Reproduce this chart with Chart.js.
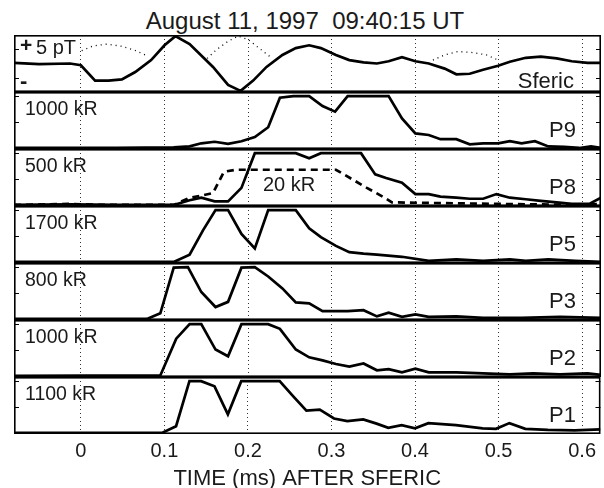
<!DOCTYPE html>
<html>
<head>
<meta charset="utf-8">
<script src="https://cdn.jsdelivr.net/npm/chart.js@4"></script>
<style>
body { margin: 0; background: #fff; }
#page { position: relative; width: 604px; height: 488px; font-family: "Liberation Sans", Arial, Helvetica, sans-serif; color: #1a1a1a; overflow: hidden; }
.panel { position: absolute; left: 14px; width: 587px; }
.lbl { position: absolute; white-space: pre; line-height: 1; }
</style>
</head>
<body>
<div id="page">
  <div class="lbl" id="title" style="left:3px;width:604px;text-align:center;top:9px;font-size:24px;">August 11, 1997  09:40:15 UT</div>
</div>
<script>
// x axis
const xMin = -0.08;
const xMax = 0.622;
const xTicks = [0, 0.1, 0.2, 0.3, 0.4, 0.5, 0.6];
const xTickLabels = ["0", "0.1", "0.2", "0.3", "0.4", "0.5", "0.6"];

// sferic (normalized, +/-1 = full panel)
const sfericT = [-0.08, -0.05, -0.013, 0, 0.017, 0.033, 0.049, 0.065, 0.084, 0.1, 0.113, 0.13, 0.158, 0.176, 0.191, 0.206, 0.222, 0.241, 0.257, 0.273, 0.287, 0.305, 0.321, 0.338, 0.354, 0.368, 0.384, 0.4, 0.416, 0.435, 0.449, 0.465, 0.481, 0.499, 0.513, 0.532, 0.55, 0.569, 0.587, 0.606, 0.622];
const sfericV = [0.02, -0.02, 0.0, -0.06, -0.6, -0.6, -0.56, -0.3, 0.12, 0.64, 0.96, 0.68, -0.12, -0.75, -0.96, -0.6, -0.12, 0.3, 0.54, 0.64, 0.54, 0.3, 0.12, 0.04, 0.0, 0.08, 0.22, 0.08, 0.0, -0.18, -0.38, -0.36, -0.22, -0.08, 0.06, 0.2, 0.24, 0.18, 0.08, 0.02, 0.02];
// dotted arcs (inverted negative lobes)
const arcT = [0.001, 0.015, 0.031, 0.048, 0.064, 0.08, null, 0.151, 0.162, 0.176, 0.188, 0.2, 0.213, 0.227, null, 0.421, 0.435, 0.451, 0.467, 0.485, 0.499];
const arcV = [0.45, 0.62, 0.68, 0.61, 0.47, 0.26, null, 0.18, 0.48, 0.78, 0.96, 0.84, 0.54, 0.22, null, 0.12, 0.3, 0.42, 0.39, 0.3, 0.12];

// photometer channels (normalized to the scale in each panel label)
const p9T = [-0.08, 0.042, 0.111, 0.13, 0.144, 0.16, 0.176, 0.192, 0.208, 0.224, 0.238, 0.254, 0.273, 0.289, 0.304, 0.319, 0.368, 0.384, 0.4, 0.416, 0.43, 0.449, 0.465, 0.481, 0.499, 0.513, 0.527, 0.543, 0.559, 0.578, 0.596, 0.61, 0.622];
const p9V = [0, 0, 0.01, 0.03, 0.09, 0.12, 0.08, 0.13, 0.21, 0.4, 0.97, 1, 1, 0.81, 0.7, 1, 1, 0.57, 0.28, 0.25, 0.17, 0.17, 0.07, 0.09, 0.09, 0.13, 0.09, 0.13, 0.03, 0.02, 0, 0.03, 0];

const p8T = [-0.08, -0.013, 0.042, 0.111, 0.13, 0.144, 0.16, 0.176, 0.192, 0.208, 0.257, 0.273, 0.287, 0.335, 0.352, 0.365, 0.384, 0.4, 0.416, 0.43, 0.449, 0.465, 0.481, 0.497, 0.513, 0.532, 0.55, 0.569, 0.587, 0.608, 0.622];
const p8V = [0, 0.01, 0, 0, 0.09, 0.14, 0.07, 0.07, 0.33, 1, 1, 0.9, 1, 1, 0.59, 0.52, 0.43, 0.21, 0.21, 0.16, 0.14, 0.12, 0.12, 0.21, 0.14, 0.11, 0.08, 0.05, 0.02, 0.02, 0.14];
// P8 at 20 kR scale (dashed)
const p8lowT = [-0.08, -0.013, 0.024, 0.111, 0.13, 0.144, 0.158, 0.171, 0.185, 0.305, 0.324, 0.342, 0.361, 0.372, 0.412, 0.504, 0.596, 0.622];
const p8lowV = [0, 0.02, 0, 0, 0.14, 0.18, 0.23, 0.64, 0.68, 0.68, 0.5, 0.33, 0.16, 0.05, 0.04, 0.02, 0, 0.02];

const p5T = [-0.08, 0.111, 0.13, 0.146, 0.161, 0.176, 0.192, 0.208, 0.224, 0.257, 0.273, 0.287, 0.305, 0.321, 0.338, 0.354, 0.384, 0.416, 0.449, 0.481, 0.513, 0.532, 0.559, 0.591, 0.622];
const p5V = [0, 0, 0.14, 0.61, 1, 1, 0.54, 0.26, 1, 1, 0.65, 0.48, 0.31, 0.19, 0.16, 0.14, 0.1, 0.02, 0.05, 0.02, 0.05, 0.02, 0.05, 0.02, 0];

const p3T = [-0.08, 0.079, 0.095, 0.111, 0.128, 0.144, 0.161, 0.176, 0.192, 0.208, 0.224, 0.241, 0.257, 0.273, 0.289, 0.319, 0.338, 0.354, 0.368, 0.384, 0.4, 0.416, 0.449, 0.481, 0.527, 0.573, 0.622];
const p3V = [0, 0, 0.11, 0.99, 1, 0.52, 0.23, 0.33, 0.99, 1, 0.82, 0.59, 0.32, 0.3, 0.15, 0.15, 0.17, 0.05, 0.12, 0.04, 0.09, 0.04, 0.05, 0.02, 0.02, 0.04, 0.02];

const p2T = [-0.08, 0.095, 0.114, 0.13, 0.144, 0.161, 0.176, 0.192, 0.224, 0.238, 0.257, 0.273, 0.289, 0.305, 0.321, 0.338, 0.354, 0.368, 0.384, 0.4, 0.416, 0.449, 0.481, 0.513, 0.541, 0.573, 0.606, 0.622];
const p2V = [0, 0.01, 0.72, 1, 1, 0.51, 0.38, 1, 1, 0.91, 0.51, 0.36, 0.3, 0.23, 0.18, 0.24, 0.11, 0.13, 0.07, 0.14, 0.07, 0.07, 0.05, 0.03, 0.05, 0.03, 0.05, 0.02];

const p1T = [-0.08, 0.042, 0.097, 0.114, 0.13, 0.144, 0.16, 0.176, 0.192, 0.238, 0.254, 0.27, 0.286, 0.303, 0.319, 0.338, 0.354, 0.368, 0.384, 0.4, 0.416, 0.449, 0.481, 0.497, 0.513, 0.532, 0.559, 0.591, 0.622];
const p1V = [0, 0, 0, 0.13, 1, 1, 0.9, 0.36, 1, 1, 0.71, 0.43, 0.45, 0.28, 0.23, 0.26, 0.18, 0.1, 0.15, 0.09, 0.19, 0.15, 0.09, 0.08, 0.19, 0.08, 0.06, 0.05, 0.07];

const panelNames = ["Sferic", "P9", "P8", "P5", "P3", "P2", "P1"];
const scaleLabels = ["5 pT", "1000 kR", "500 kR", "1700 kR", "800 kR", "1000 kR", "1100 kR"];

const panelTop = 35;
const panelH = 57;
const axisH = 60;

function zip(ts, vs) {
    return ts.map((t, i) => ({x: t, y: vs[i]}));
}

function solid(ts, vs) {
    return {data: zip(ts, vs), borderColor: "#000", borderWidth: 2.7, pointRadius: 0, tension: 0, spanGaps: false};
}

function addLabel(text, css) {
    let d = document.createElement("div");
    d.className = "lbl";
    d.innerHTML = text;
    d.style.cssText += css;
    document.getElementById("page").appendChild(d);
}

function makePanel(idx, datasets, yMin, yMax, yTicks, bottom) {
    let wrap = document.createElement("div");
    wrap.className = "panel";
    wrap.style.top = (panelTop + idx * panelH) + "px";
    wrap.style.height = (panelH + (bottom ? axisH : 0)) + "px";
    let cv = document.createElement("canvas");
    wrap.appendChild(cv);
    document.getElementById("page").appendChild(wrap);

    // frame + small inside ticks on both sides
    const frame = {
        id: "frame" + idx,
        afterDraw(chart) {
            const a = chart.chartArea;
            const ctx = chart.ctx;
            const ys = chart.scales.y;
            ctx.save();
            ctx.strokeStyle = "#000";
            ctx.lineWidth = 1.6;
            ctx.strokeRect(a.left + 0.8, a.top + 0.8, a.right - a.left - 1.6, a.bottom - a.top - 1.6);
            ctx.lineWidth = 1;
            yTicks.forEach(v => {
                const py = Math.round(ys.getPixelForValue(v)) + 0.5;
                ctx.beginPath();
                ctx.moveTo(a.left, py); ctx.lineTo(a.left + 5, py);
                ctx.moveTo(a.right - 5, py); ctx.lineTo(a.right, py);
                ctx.stroke();
            });
            ctx.restore();
        }
    };

    new Chart(cv.getContext("2d"), {
        type: "line",
        data: {datasets: datasets},
        options: {
            responsive: true,
            maintainAspectRatio: false,
            animation: false,
            layout: {padding: 0},
            plugins: {legend: {display: false}, tooltip: {enabled: false}},
            scales: {
                x: {
                    type: "linear",
                    min: xMin,
                    max: xMax,
                    afterBuildTicks: s => { s.ticks = xTicks.map(v => ({value: v})); },
                    afterFit: s => { s.height = bottom ? axisH : 0; },
                    ticks: {
                        display: bottom,
                        color: "#1a1a1a",
                        padding: 5,
                        maxRotation: 0,
                        font: {family: "Liberation Sans, Arial, sans-serif", size: 20},
                        callback: (v, i) => xTickLabels[i]
                    },
                    grid: {color: "#333", lineWidth: 1, drawTicks: false},
                    border: {display: false, dash: [1, 3]},
                    title: {
                        display: bottom,
                        text: "TIME (ms) AFTER SFERIC",
                        color: "#1a1a1a",
                        padding: {top: 0, bottom: 2},
                        font: {family: "Liberation Sans, Arial, sans-serif", size: 22}
                    }
                },
                y: {
                    min: yMin,
                    max: yMax,
                    afterFit: s => { s.width = 0; },
                    ticks: {display: false},
                    grid: {display: false},
                    border: {display: false}
                }
            }
        },
        plugins: [frame]
    });
}

// sferic panel
makePanel(0, [
    solid(sfericT, sfericV),
    {data: zip(arcT, arcV), borderColor: "#000", borderWidth: 1.3, borderDash: [1, 4], pointRadius: 0, spanGaps: false}
], -1, 1, [-0.5, 0.5], false);

const seriesT = [p9T, p8T, p5T, p3T, p2T, p1T];
const seriesV = [p9V, p8V, p5V, p3V, p2V, p1V];
for (let i = 0; i < 6; i++) {
    let ds = [solid(seriesT[i], seriesV[i])];
    if (i === 1) {
        let d = solid(p8lowT, p8lowV);
        d.borderDash = [7, 5];
        ds.push(d);
    }
    makePanel(i + 1, ds, -0.02, 1.08, [0.5, 1.0], i === 5);
}

// panel annotations
addLabel("<b>+</b>", "left:20px;top:34px;font-size:21px;");
addLabel(scaleLabels[0], "left:36px;top:37px;font-size:20px;");
addLabel("<b>-</b>", "left:20px;top:70px;font-size:22px;font-weight:900;");
for (let i = 0; i < 7; i++) {
    let top = panelTop + i * panelH;
    if (i > 0) {
        addLabel(scaleLabels[i], "left:25px;top:" + (top + 7) + "px;font-size:19.5px;");
        addLabel(panelNames[i], "right:28px;top:" + (top + 27) + "px;font-size:22px;");
    } else {
        addLabel(panelNames[i], "right:30px;top:" + (top + 35) + "px;font-size:22px;");
    }
}
addLabel("20 kR", "left:263px;top:174px;font-size:20px;");
</script>
</body>
</html>
